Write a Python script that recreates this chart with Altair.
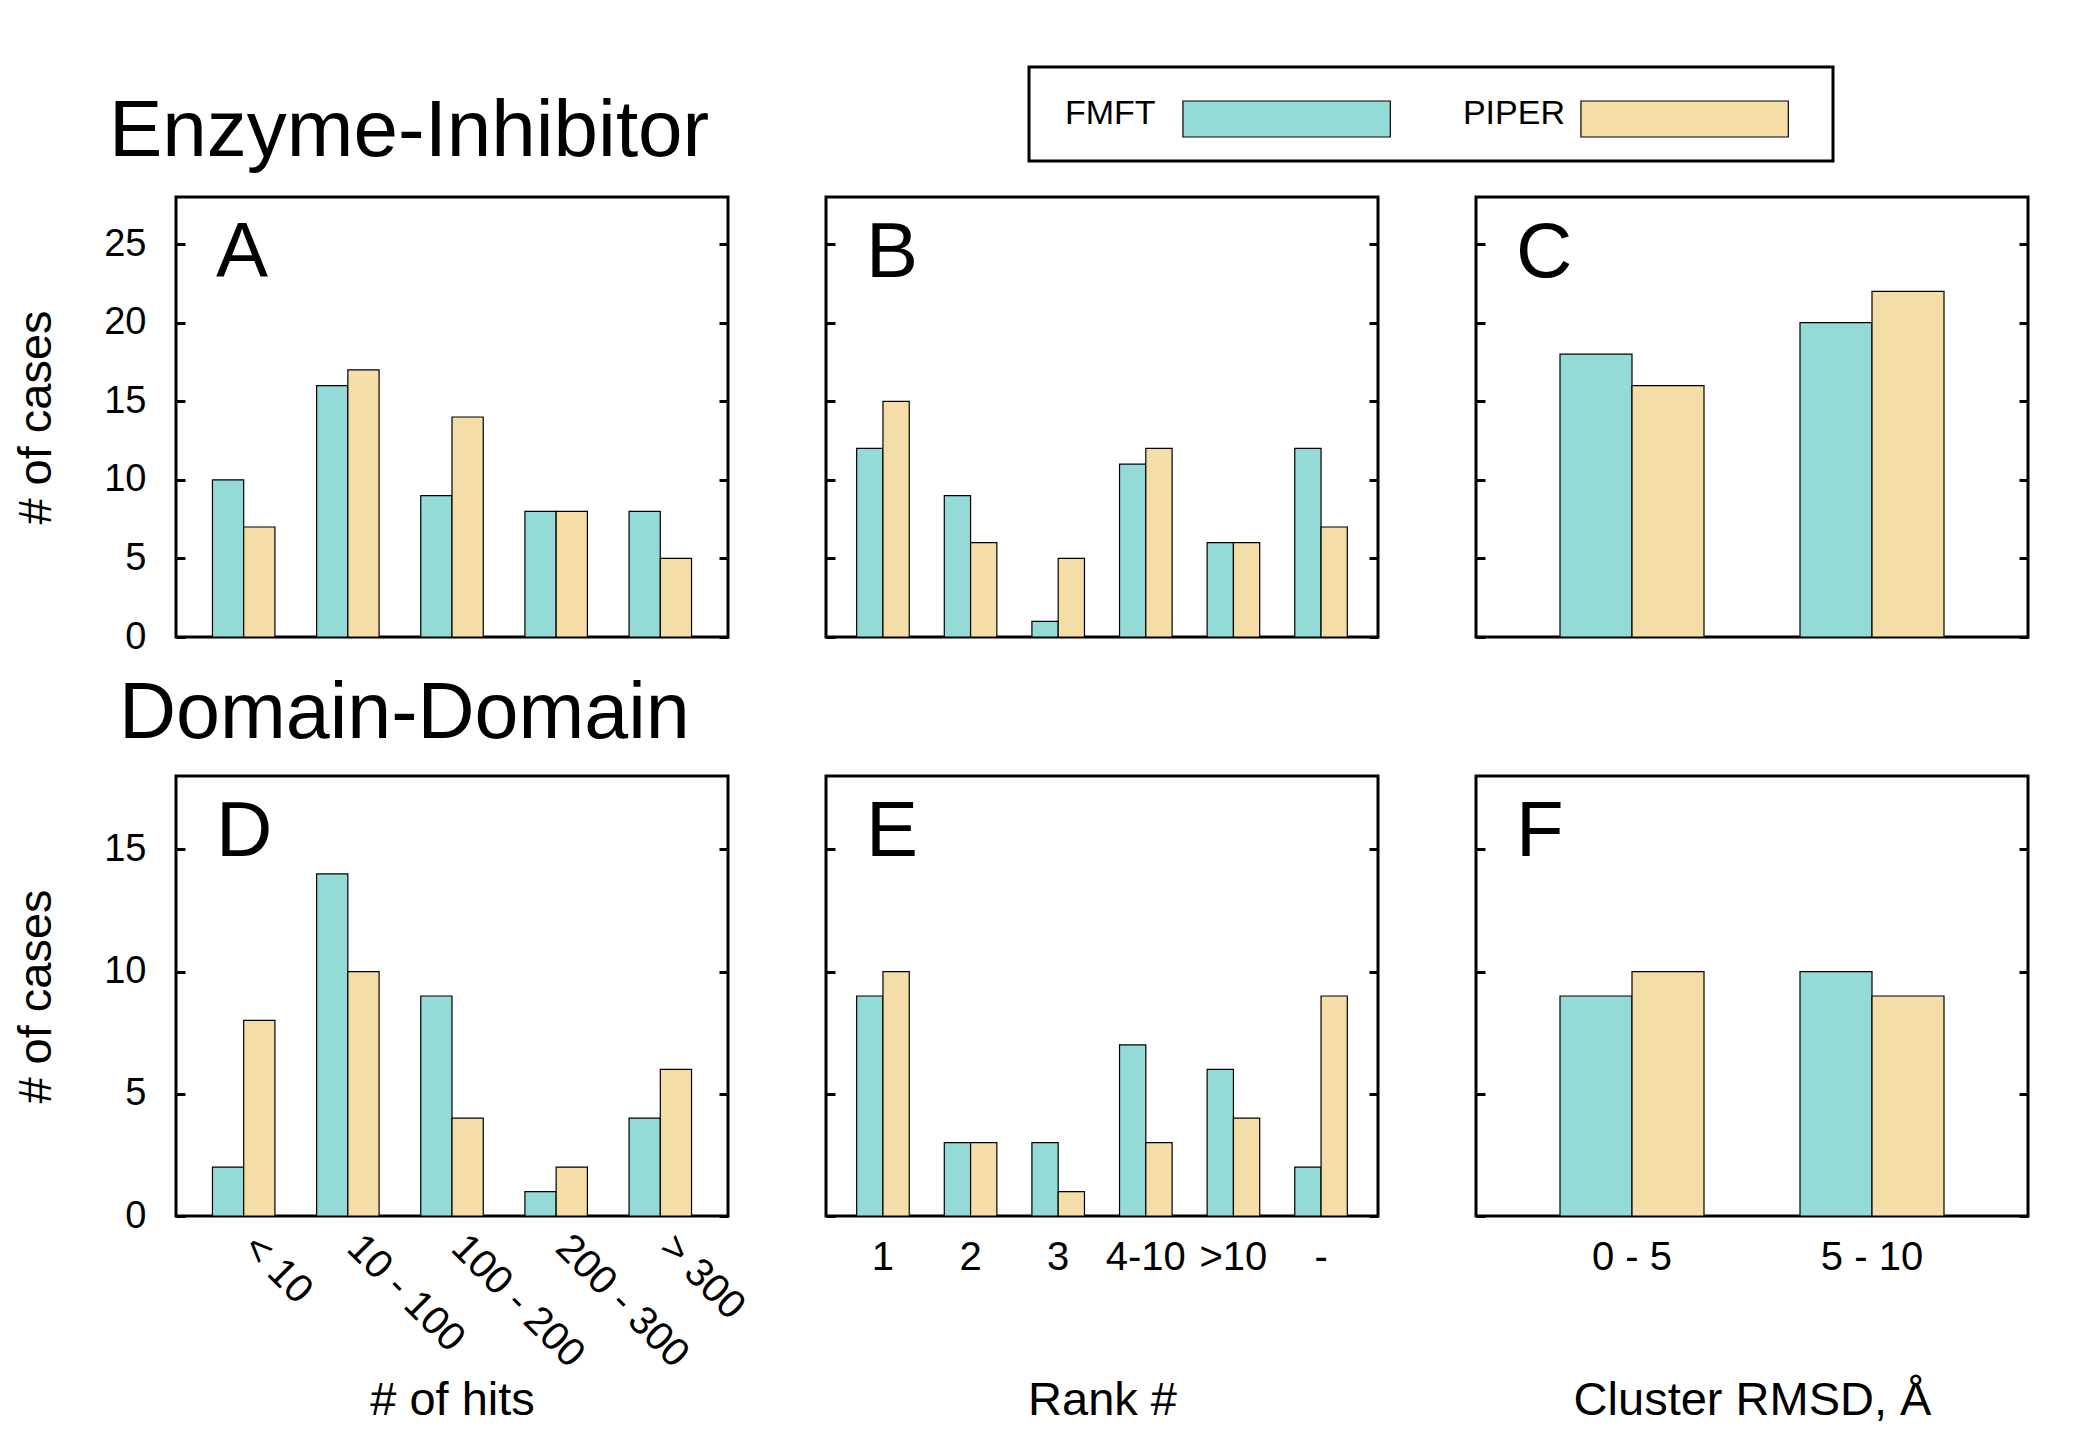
import altair as alt
import pandas as pd

# ---------------- data ----------------
series_names = ["FMFT", "PIPER"]
series_colors = ["#94dad7", "#f5dda7"]

hits_cats = ["< 10", "10 - 100", "100 - 200", "200 - 300", "> 300"]
rank_cats = ["1", "2", "3", "4-10", ">10", "-"]
rmsd_cats = ["0 - 5", "5 - 10"]

# Enzyme-Inhibitor
ei_hits_fmft = [10, 16, 9, 8, 8]
ei_hits_piper = [7, 17, 14, 8, 5]
ei_rank_fmft = [12, 9, 1, 11, 6, 12]
ei_rank_piper = [15, 6, 5, 12, 6, 7]
ei_rmsd_fmft = [18, 20]
ei_rmsd_piper = [16, 22]

# Domain-Domain
dd_hits_fmft = [2, 14, 9, 1, 4]
dd_hits_piper = [8, 10, 4, 2, 6]
dd_rank_fmft = [9, 3, 3, 7, 6, 2]
dd_rank_piper = [10, 3, 1, 3, 4, 9]
dd_rmsd_fmft = [9, 10]
dd_rmsd_piper = [10, 9]

ei_ymax, ei_yticks = 28, [0, 5, 10, 15, 20, 25]
dd_ymax, dd_yticks = 18, [0, 5, 10, 15]

x_titles = ["# of hits", "Rank #", "Cluster RMSD, Å"]
y_title = "# of cases"

# ---------------- layout constants ----------------
PW, PH = 552, 440
TICK = 9
YLABEL_FS = 38
XLABEL_FS = 40
TITLE_FS = 47
GAP = 98

color_enc = alt.Color(
    "series:N",
    scale=alt.Scale(domain=series_names, range=series_colors),
    legend=None,
)


def x_axis(title, angle):
    kw = dict(
        title=title,
        titleFontSize=TITLE_FS,
        titleFontWeight="normal",
        titleColor="black",
        titleY=198,
        titleBaseline="alphabetic",
        labelFontSize=XLABEL_FS,
        labelColor="black",
        labelAngle=angle,
        labelOverlap=False,
        labelLimit=0,
        ticks=False,
        tickSize=0,
        domain=False,
        grid=False,
    )
    if angle:
        kw.update(labelAlign="left", labelBaseline="middle", labelPadding=25, labelOffset=6)
    else:
        kw.update(labelAlign="center", labelBaseline="top", labelPadding=21)
    return alt.Axis(**kw)


def panel(cats, fmft, piper, letter, ymax, yticks, first_col, xaxis):
    df = pd.DataFrame(
        {
            "cat": cats + cats,
            "series": ["FMFT"] * len(cats) + ["PIPER"] * len(cats),
            "value": fmft + piper,
        }
    )
    xenc = alt.X(
        "cat:N",
        sort=cats,
        scale=alt.Scale(paddingInner=0.4, paddingOuter=0.35),
        axis=xaxis,
    )
    xoff = alt.XOffset(
        "series:N",
        sort=series_names,
        scale=alt.Scale(domain=series_names, paddingInner=0, paddingOuter=0),
    )
    yscale = alt.Scale(domain=[0, ymax], nice=False, zero=True)

    left_kw = dict(
        orient="left",
        values=yticks,
        offset=-TICK,
        tickSize=TICK,
        tickWidth=3,
        tickColor="black",
        domain=False,
        grid=False,
        labels=first_col,
        labelFontSize=YLABEL_FS,
        labelColor="black",
        labelPadding=30,
        minExtent=0,
    )
    if first_col:
        left_kw.update(
            title=y_title,
            titleFontSize=TITLE_FS,
            titleFontWeight="normal",
            titleColor="black",
            titleX=-149,
            titleY=PH / 2,
            titleBaseline="middle",
        )
    else:
        left_kw.update(title=None)
    right_axis = alt.Axis(
        orient="right",
        values=yticks,
        offset=-TICK,
        tickSize=TICK,
        tickWidth=3,
        tickColor="black",
        domain=False,
        grid=False,
        labels=False,
        title=None,
        minExtent=0,
    )

    bars = (
        alt.Chart(df)
        .mark_bar(stroke="black", strokeWidth=1.2)
        .encode(
            x=xenc,
            xOffset=xoff,
            y=alt.Y("value:Q", scale=yscale, axis=alt.Axis(**left_kw)),
            color=color_enc,
        )
    )
    ghost = (
        alt.Chart(df)
        .mark_bar(opacity=0)
        .encode(
            x=xenc,
            xOffset=xoff,
            y=alt.Y("value:Q", scale=yscale, axis=right_axis),
        )
    )
    lab = (
        alt.Chart(pd.DataFrame({"t": [letter]}))
        .mark_text(align="left", baseline="alphabetic", fontSize=78, color="black")
        .encode(text="t:N", x=alt.value(40), y=alt.value(80))
    )
    return (
        alt.layer(bars, ghost, lab)
        .resolve_axis(y="independent")
        .properties(width=PW, height=PH)
    )


def title_chart(text, size, xpos, ypos, w, h):
    return (
        alt.Chart(pd.DataFrame({"t": [text]}))
        .mark_text(align="left", baseline="alphabetic", fontSize=size, color="black")
        .encode(text="t:N", x=alt.value(xpos), y=alt.value(ypos))
        .properties(width=w, height=h, view=alt.ViewBackground(stroke="transparent"))
    )


# ---------------- legend ----------------
leg_df = pd.DataFrame({"series": series_names})
leg_scale = alt.Scale(paddingInner=0.479, paddingOuter=0.2495, align=0.775)
swatch = (
    alt.Chart(leg_df)
    .mark_rect(stroke="black", strokeWidth=1.2)
    .encode(
        x=alt.X("series:N", sort=series_names, scale=leg_scale, axis=None),
        y=alt.value(34),
        y2=alt.value(70),
        color=color_enc,
    )
)
leg_text = (
    alt.Chart(leg_df)
    .mark_text(align="left", baseline="alphabetic", fontSize=34, dx=-118, color="black")
    .encode(
        x=alt.X("series:N", sort=series_names, bandPosition=0, axis=None),
        y=alt.value(57),
        text="series:N",
    )
)
legend = alt.layer(swatch, leg_text).properties(width=804, height=94)

# ---------------- panels ----------------
A = panel(hits_cats, ei_hits_fmft, ei_hits_piper, "A", ei_ymax, ei_yticks, True, None)
B = panel(rank_cats, ei_rank_fmft, ei_rank_piper, "B", ei_ymax, ei_yticks, False, None)
C = panel(rmsd_cats, ei_rmsd_fmft, ei_rmsd_piper, "C", ei_ymax, ei_yticks, False, None)

D = panel(hits_cats, dd_hits_fmft, dd_hits_piper, "D", dd_ymax, dd_yticks, True,
          x_axis(x_titles[0], 45))
E = panel(rank_cats, dd_rank_fmft, dd_rank_piper, "E", dd_ymax, dd_yticks, False,
          x_axis(x_titles[1], 0))
F = panel(rmsd_cats, dd_rmsd_fmft, dd_rmsd_piper, "F", dd_ymax, dd_yticks, False,
          x_axis(x_titles[2], 0))

header1 = alt.hconcat(
    title_chart("Enzyme-Inhibitor", 80, -67, 89, 833, 126), legend, spacing=16
)
row1 = alt.hconcat(A, B, C, spacing=GAP, bounds="flush").resolve_scale(xOffset="independent")
header2 = title_chart("Domain-Domain", 79, -57, 78, 833, 112)
row2 = alt.hconcat(D, E, F, spacing=GAP, bounds="flush").resolve_scale(xOffset="independent")

chart = (
    alt.vconcat(header1, row1, header2, row2, spacing=0)
    .resolve_scale(xOffset="independent")
    .properties(padding={"left": 2, "top": 57, "right": 0, "bottom": 0}, background="white")
    .configure(font="Liberation Sans")
    .configure_view(stroke="black", strokeWidth=3)
)

chart.save("out.html", embed_options={"renderer": "svg", "actions": False})
